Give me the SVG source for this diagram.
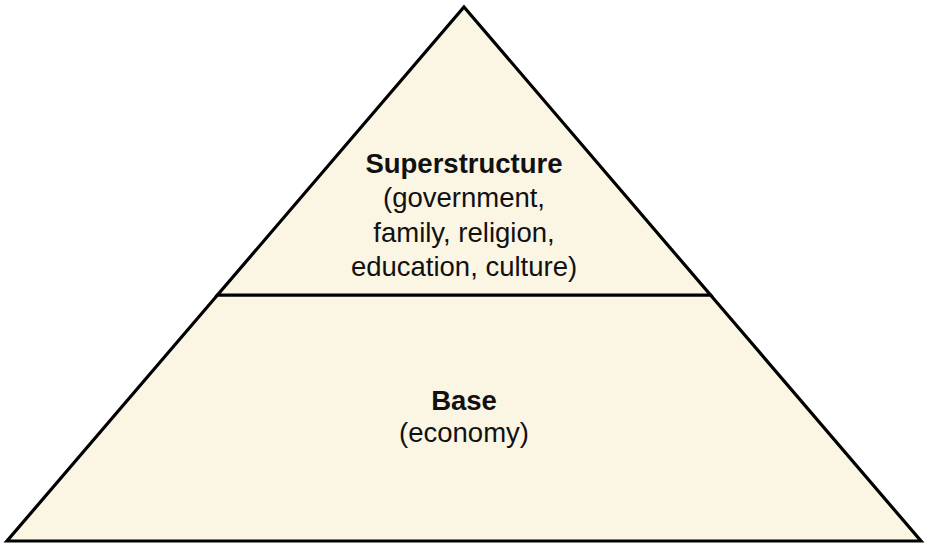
<svg xmlns="http://www.w3.org/2000/svg" width="928" height="548" viewBox="0 0 928 548">
<style>
.t{font-family:"Liberation Sans",Arial,sans-serif;font-size:27.5px;fill:#111;text-anchor:middle}
.b{font-weight:bold}
.tier{fill:#FBF5E4;stroke:#000;stroke-width:3.2;stroke-linejoin:miter}
</style>
<rect width="928" height="548" fill="#fff"/>
<g id="base">
<polygon class="tier" points="217.5,295 710.5,295 921,541 7,541"/>
<text class="t b" x="464" y="410">Base</text>
<text class="t" x="464" y="442">(economy)</text>
</g>
<g id="superstructure">
<polygon class="tier" points="464,7 710.5,295 217.5,295"/>
<text class="t b" x="464" y="173">Superstructure</text>
<text class="t" x="464" y="207">(government,</text>
<text class="t" x="464" y="242">family, religion,</text>
<text class="t" x="464" y="276">education, culture)</text>
</g>
<g id="connectors"></g>
</svg>
